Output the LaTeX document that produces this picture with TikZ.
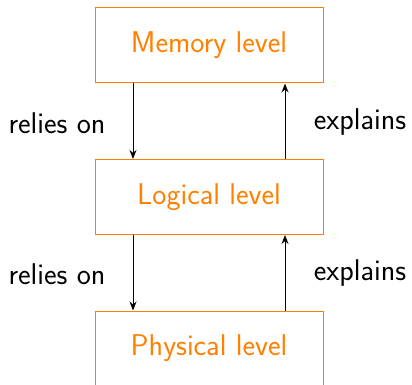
\documentclass[tikz,border=0pt]{standalone}
\usetikzlibrary{arrows.meta}
\begin{document}
\begin{tikzpicture}[x=1pt,y=-1pt,
  lvl/.style={draw=orange, line width=1pt, text=orange, minimum width=228pt, minimum height=75pt, inner sep=0pt, font=\sffamily\fontsize{30}{34}\selectfont},
  lab/.style={font=\sffamily\fontsize{30}{34}\selectfont, inner sep=0pt},
  arr/.style={-{Stealth[length=9pt,width=7pt]}, line width=1pt}]
\useasboundingbox (0,0) rectangle (412,385);
\node[lvl] (mem) at (209,45.5) {Memory level};
\node[lvl] (log) at (209,197) {Logical level};
\node[lvl] (phy) at (209,348.5) {Physical level};
\draw[arr] (mem.south -| 133,0) -- (log.north -| 133,0);
\draw[arr] (log.north -| 285,0) -- (mem.south -| 285,0);
\draw[arr] (log.south -| 133,0) -- (phy.north -| 133,0);
\draw[arr] (phy.north -| 285,0) -- (log.south -| 285,0);
\node[lab] (r1) at (57,123) {relies on};
\node[lab] (e1) at (360,122) {explains};
\node[lab] (r2) at (57,274) {relies on};
\node[lab] (e2) at (360,273) {explains};
\end{tikzpicture}
\end{document}
